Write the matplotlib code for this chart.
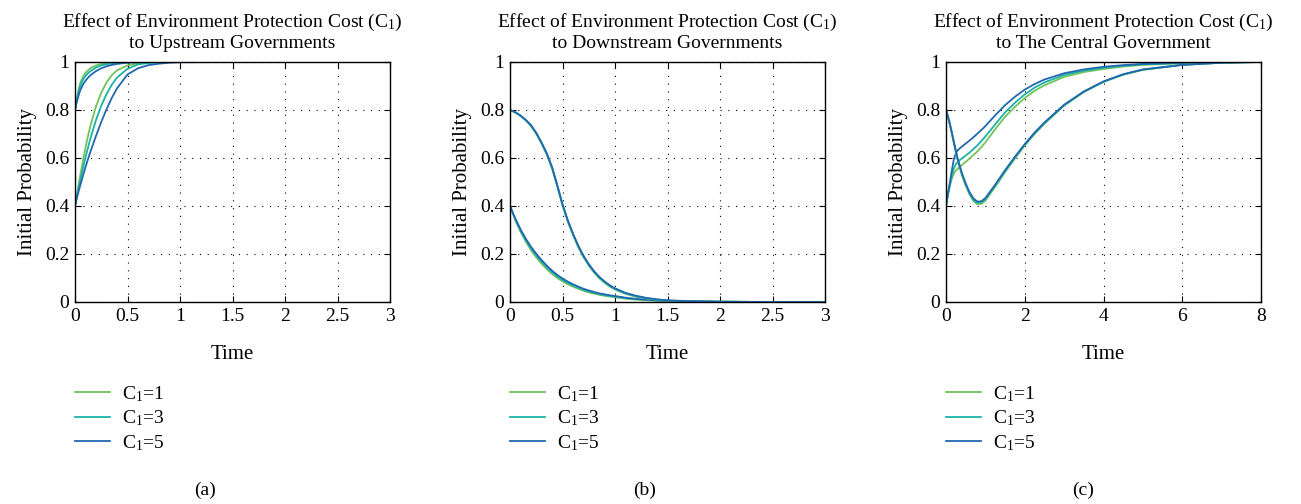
import matplotlib.pyplot as plt
import numpy as np

plt.rcParams['font.family'] = ['Liberation Serif', 'DejaVu Serif']
plt.rcParams['mathtext.fontset'] = 'stix'

labels = ['$\\mathregular{C_1}$=1', '$\\mathregular{C_1}$=3', '$\\mathregular{C_1}$=5']
colors = ['#72c45a', '#1bb3a7', '#2367b0']

titles = ['Effect of Environment Protection Cost ($\\mathregular{C_1}$)\nto Upstream Governments',
          'Effect of Environment Protection Cost ($\\mathregular{C_1}$)\nto Downstream Governments',
          'Effect of Environment Protection Cost ($\\mathregular{C_1}$)\nto The Central Government']
panel_tags = ['(a)', '(b)', '(c)']

# panel (a) upstream
t_a = [0, 0.0125, 0.025, 0.0375, 0.05, 0.075, 0.1, 0.125, 0.15, 0.2, 0.25, 0.3, 0.35, 0.4,
       0.5, 0.6, 0.7, 0.8, 0.9, 1.0, 1.5, 2, 3]
a_hi_c1 = [0.8, 0.835, 0.865, 0.892, 0.912, 0.938, 0.955, 0.966, 0.975, 0.986, 0.992, 0.996, 0.998, 0.999,
           1, 1, 1, 1, 1, 1, 1, 1, 1]
a_hi_c3 = [0.8, 0.83, 0.856, 0.88, 0.9, 0.925, 0.942, 0.954, 0.963, 0.977, 0.986, 0.991, 0.995, 0.997,
           0.999, 1, 1, 1, 1, 1, 1, 1, 1]
a_hi_c5 = [0.8, 0.825, 0.846, 0.865, 0.882, 0.905, 0.922, 0.935, 0.946, 0.962, 0.974, 0.982, 0.988, 0.992,
           0.997, 0.999, 1, 1, 1, 1, 1, 1, 1]
a_lo_c1 = [0.4, 0.432, 0.465, 0.496, 0.527, 0.588, 0.643, 0.694, 0.74, 0.815, 0.872, 0.915, 0.945, 0.965,
           0.986, 0.995, 0.998, 1, 1, 1, 1, 1, 1]
a_lo_c3 = [0.4, 0.428, 0.455, 0.481, 0.506, 0.556, 0.602, 0.645, 0.686, 0.758, 0.818, 0.866, 0.905, 0.935,
           0.972, 0.99, 0.996, 0.999, 1, 1, 1, 1, 1]
a_lo_c5 = [0.4, 0.423, 0.445, 0.466, 0.486, 0.525, 0.562, 0.597, 0.63, 0.692, 0.75, 0.803, 0.85, 0.89,
           0.948, 0.974, 0.987, 0.993, 0.997, 0.999, 1, 1, 1]

# panel (b) downstream
t_b = [0, 0.05, 0.1, 0.15, 0.2, 0.25, 0.3, 0.35, 0.4, 0.45, 0.5, 0.55, 0.6, 0.65, 0.7, 0.75,
       0.8, 0.85, 0.9, 0.95, 1.0, 1.1, 1.2, 1.3, 1.4, 1.5, 1.75, 2, 2.5, 3]
b_hi_c1 = [0.8, 0.79, 0.776, 0.757, 0.733, 0.701, 0.661, 0.614, 0.557, 0.482, 0.402, 0.335, 0.279, 0.229, 0.187, 0.152,
           0.123, 0.099, 0.08, 0.064, 0.052, 0.034, 0.022, 0.015, 0.009, 0.005, 0.002, 0.001, 0, 0]
b_hi_c3 = [0.8, 0.79, 0.776, 0.758, 0.735, 0.703, 0.663, 0.617, 0.56, 0.485, 0.405, 0.338, 0.282, 0.232, 0.19, 0.155,
           0.126, 0.102, 0.083, 0.067, 0.054, 0.036, 0.024, 0.016, 0.01, 0.006, 0.002, 0.001, 0, 0]
b_hi_c5 = [0.8, 0.791, 0.777, 0.759, 0.737, 0.705, 0.665, 0.62, 0.563, 0.488, 0.408, 0.341, 0.285, 0.235, 0.193, 0.158,
           0.129, 0.105, 0.086, 0.07, 0.057, 0.038, 0.026, 0.017, 0.011, 0.007, 0.003, 0.001, 0, 0]
b_lo_c1 = [0.4, 0.342, 0.293, 0.252, 0.216, 0.186, 0.16, 0.137, 0.117, 0.1, 0.086, 0.074, 0.064, 0.055, 0.047, 0.04,
           0.035, 0.03, 0.026, 0.023, 0.02, 0.014, 0.01, 0.007, 0.005, 0.004, 0.002, 0.001, 0, 0]
b_lo_c3 = [0.4, 0.345, 0.298, 0.258, 0.223, 0.194, 0.168, 0.145, 0.124, 0.107, 0.092, 0.08, 0.069, 0.06, 0.051, 0.044,
           0.038, 0.033, 0.029, 0.025, 0.022, 0.016, 0.012, 0.009, 0.006, 0.005, 0.002, 0.001, 0, 0]
b_lo_c5 = [0.4, 0.348, 0.303, 0.264, 0.23, 0.201, 0.175, 0.152, 0.131, 0.113, 0.098, 0.085, 0.074, 0.064, 0.055, 0.048,
           0.042, 0.036, 0.032, 0.028, 0.025, 0.018, 0.013, 0.01, 0.007, 0.005, 0.003, 0.001, 0, 0]

# panel (c) central
t_c = [0, 0.05, 0.1, 0.15, 0.2, 0.25, 0.3, 0.4, 0.5, 0.6, 0.7, 0.8, 0.9, 1.0, 1.25, 1.5, 1.75,
       2, 2.25, 2.5, 3, 3.5, 4, 4.5, 5, 6, 7, 8]
c_hi_c1 = [0.8, 0.771, 0.738, 0.701, 0.662, 0.624, 0.588, 0.53, 0.485, 0.447, 0.42, 0.407, 0.409, 0.422, 0.48,
           0.541, 0.598, 0.652, 0.7, 0.743, 0.818, 0.875, 0.917, 0.947, 0.967, 0.988, 0.997, 1]
c_hi_c3 = [0.8, 0.772, 0.74, 0.703, 0.665, 0.627, 0.592, 0.535, 0.49, 0.452, 0.426, 0.413, 0.415, 0.428, 0.485,
           0.545, 0.602, 0.655, 0.703, 0.745, 0.82, 0.876, 0.918, 0.948, 0.968, 0.988, 0.997, 1]
c_hi_c5 = [0.8, 0.773, 0.741, 0.705, 0.667, 0.63, 0.595, 0.539, 0.494, 0.457, 0.431, 0.418, 0.42, 0.433, 0.489,
           0.549, 0.605, 0.658, 0.706, 0.748, 0.822, 0.877, 0.919, 0.949, 0.969, 0.988, 0.997, 1]
c_lo_c1 = [0.4, 0.447, 0.485, 0.515, 0.535, 0.548, 0.556, 0.57, 0.584, 0.598, 0.613, 0.628, 0.646, 0.665, 0.72,
           0.772, 0.813, 0.85, 0.88, 0.903, 0.938, 0.958, 0.971, 0.981, 0.988, 0.995, 0.999, 1]
c_lo_c3 = [0.4, 0.448, 0.49, 0.528, 0.557, 0.574, 0.584, 0.598, 0.61, 0.623, 0.638, 0.653, 0.671, 0.69, 0.74,
           0.79, 0.83, 0.865, 0.893, 0.915, 0.946, 0.964, 0.976, 0.984, 0.99, 0.996, 0.999, 1]
c_lo_c5 = [0.4, 0.452, 0.5, 0.55, 0.595, 0.62, 0.633, 0.647, 0.66, 0.673, 0.687, 0.702, 0.717, 0.733, 0.778,
           0.82, 0.855, 0.885, 0.908, 0.927, 0.953, 0.969, 0.98, 0.987, 0.992, 0.997, 0.999, 1]

panels = [
    (t_a, [a_hi_c1, a_hi_c3, a_hi_c5], [a_lo_c1, a_lo_c3, a_lo_c5], [0, 0.5, 1, 1.5, 2, 2.5, 3], ['0', '0.5', '1', '1.5', '2', '2.5', '3']),
    (t_b, [b_hi_c1, b_hi_c3, b_hi_c5], [b_lo_c1, b_lo_c3, b_lo_c5], [0, 0.5, 1, 1.5, 2, 2.5, 3], ['0', '0.5', '1', '1.5', '2', '2.5', '3']),
    (t_c, [c_hi_c1, c_hi_c3, c_hi_c5], [c_lo_c1, c_lo_c3, c_lo_c5], [0, 2, 4, 6, 8], ['0', '2', '4', '6', '8']),
]

fig = plt.figure(figsize=(13.01, 5.04), dpi=100)
W, H = 1301.0, 504.0
lefts = [75, 510, 946]
tag_x = [205, 645, 1083]

for i, (t, hi, lo, xt, xtl) in enumerate(panels):
    ax = fig.add_axes([lefts[i] / W, 1 - 302 / H, 315 / W, 240 / H])
    for k in range(3):
        ax.plot(t, lo[k], color=colors[k], lw=1.3, label=labels[k])
    for k in range(3):
        ax.plot(t, hi[k], color=colors[k], lw=1.3)
    ax.set_xlim(xt[0], xt[-1])
    ax.set_ylim(0, 1)
    ax.set_xticks(xt)
    ax.set_xticklabels(xtl)
    ax.set_yticks([0, 0.2, 0.4, 0.6, 0.8, 1])
    ax.set_yticklabels(['0', '0.2', '0.4', '0.6', '0.8', '1'])
    ax.tick_params(direction='in', top=True, right=True, labelsize=14, length=4, width=0.8, pad=4)
    ax.grid(True, linestyle=(0, (1, 6)), color='black', lw=0.8)
    for s in ax.spines.values():
        s.set_linewidth(1.0)
    ax.set_title(titles[i], fontsize=14, pad=10, linespacing=1.15)
    ax.set_xlabel('Time', fontsize=15, labelpad=15)
    ax.set_ylabel('Initial Probability', fontsize=15, labelpad=6)
    ax.legend(loc='upper left', bbox_to_anchor=(0, -0.342), frameon=False, borderaxespad=0, borderpad=0,
              fontsize=14, handlelength=1.8, handletextpad=0.6, labelspacing=0.25)
    fig.text(tag_x[i] / W, 1 - 490 / H, panel_tags[i], fontsize=14, ha='center', va='center')

plt.savefig('out.png', dpi=100)
